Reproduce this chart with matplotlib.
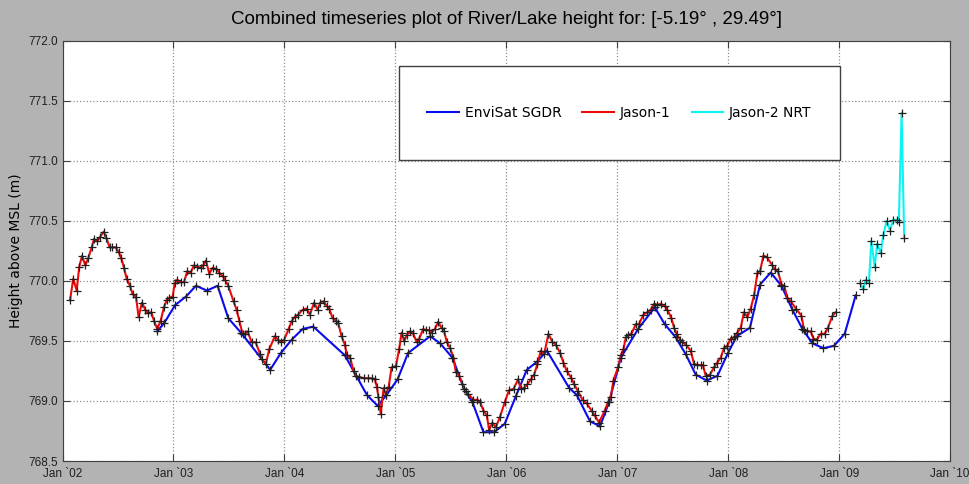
import matplotlib
matplotlib.use("Agg")
import matplotlib.pyplot as plt
from matplotlib.patches import Rectangle

# decimal year / height (m)
envisat_t = [2002.854, 2002.917, 2003.016, 2003.113, 2003.203, 2003.302, 2003.398, 2003.494,
             2003.608, 2003.872, 2003.968, 2004.065, 2004.164, 2004.260, 2004.545, 2004.744,
             2004.840, 2004.920, 2005.020, 2005.115, 2005.314, 2005.404, 2005.515, 2005.620,
             2005.695, 2005.794, 2005.890, 2005.986, 2006.086, 2006.185, 2006.281, 2006.365,
             2006.566, 2006.635, 2006.755, 2006.845, 2006.926, 2007.032, 2007.188, 2007.338,
             2007.428, 2007.527, 2007.617, 2007.707, 2007.806, 2007.903, 2007.998, 2008.077,
             2008.196, 2008.287, 2008.383, 2008.480, 2008.579, 2008.669, 2008.759, 2008.858,
             2008.954, 2009.050, 2009.149]
envisat_h = [769.58, 769.65, 769.80, 769.87, 769.96, 769.92, 769.96, 769.69,
             769.57, 769.26, 769.40, 769.51, 769.60, 769.62, 769.38, 769.05,
             768.96, 769.05, 769.18, 769.40, 769.54, 769.48, 769.36, 769.10,
             768.99, 768.74, 768.74, 768.81, 769.04, 769.26, 769.33, 769.42,
             769.11, 769.05, 768.83, 768.79, 768.99, 769.36, 769.60, 769.78,
             769.64, 769.53, 769.39, 769.22, 769.17, 769.21, 769.40, 769.54,
             769.61, 769.97, 770.07, 769.96, 769.76, 769.60, 769.48, 769.44,
             769.46, 769.56, 769.88]

jason1_t = [2002.068, 2002.097, 2002.128, 2002.151, 2002.176, 2002.206, 2002.232, 2002.263,
            2002.284, 2002.314, 2002.341, 2002.371, 2002.395, 2002.425, 2002.449, 2002.479,
            2002.506, 2002.530, 2002.554, 2002.578, 2002.608, 2002.632, 2002.662, 2002.686,
            2002.716, 2002.746, 2002.770, 2002.800, 2002.824, 2002.854, 2002.885, 2002.914,
            2002.939, 2002.962, 2002.993, 2003.011, 2003.034, 2003.065, 2003.095, 2003.124,
            2003.155, 2003.185, 2003.214, 2003.245, 2003.268, 2003.293, 2003.323, 2003.353,
            2003.383, 2003.413, 2003.443, 2003.464, 2003.494, 2003.542, 2003.569, 2003.593,
            2003.623, 2003.644, 2003.668, 2003.704, 2003.740, 2003.782, 2003.795, 2003.833,
            2003.863, 2003.914, 2003.944, 2003.968, 2003.998, 2004.038, 2004.068, 2004.095,
            2004.124, 2004.164, 2004.200, 2004.230, 2004.268, 2004.299, 2004.323, 2004.353,
            2004.383, 2004.404, 2004.434, 2004.464, 2004.485, 2004.515, 2004.545, 2004.563,
            2004.593, 2004.623, 2004.644, 2004.674, 2004.714, 2004.750, 2004.786, 2004.815,
            2004.833, 2004.848, 2004.869, 2004.894, 2004.914, 2004.940, 2004.966, 2005.005,
            2005.034, 2005.056, 2005.079, 2005.104, 2005.133, 2005.155, 2005.194, 2005.215,
            2005.251, 2005.275, 2005.305, 2005.326, 2005.356, 2005.386, 2005.416, 2005.440,
            2005.464, 2005.494, 2005.524, 2005.545, 2005.575, 2005.605, 2005.635, 2005.655,
            2005.704, 2005.740, 2005.764, 2005.794, 2005.824, 2005.845, 2005.875, 2005.905,
            2005.944, 2005.986, 2006.025, 2006.065, 2006.106, 2006.131, 2006.161, 2006.191,
            2006.221, 2006.251, 2006.281, 2006.311, 2006.341, 2006.380, 2006.416, 2006.446,
            2006.485, 2006.515, 2006.545, 2006.587, 2006.611, 2006.647, 2006.687, 2006.725,
            2006.768, 2006.797, 2006.836, 2006.887, 2006.917, 2006.941, 2006.965, 2007.007,
            2007.032, 2007.056, 2007.077, 2007.097, 2007.128, 2007.167, 2007.196, 2007.236,
            2007.272, 2007.302, 2007.332, 2007.362, 2007.392, 2007.428, 2007.452, 2007.488,
            2007.512, 2007.536, 2007.566, 2007.588, 2007.617, 2007.662, 2007.692, 2007.723,
            2007.752, 2007.772, 2007.797, 2007.836, 2007.872, 2007.902, 2007.932, 2007.962,
            2007.992, 2008.023, 2008.052, 2008.083, 2008.113, 2008.142, 2008.173, 2008.203,
            2008.233, 2008.264, 2008.287, 2008.317, 2008.347, 2008.398, 2008.419, 2008.449,
            2008.480, 2008.504, 2008.534, 2008.564, 2008.610, 2008.660, 2008.684, 2008.714,
            2008.744, 2008.768, 2008.798, 2008.834, 2008.870, 2008.899, 2008.939, 2008.969]
jason1_h = [769.84, 770.02, 769.92, 770.12, 770.21, 770.13, 770.19, 770.28,
            770.35, 770.33, 770.37, 770.41, 770.36, 770.28, 770.28, 770.28,
            770.24, 770.19, 770.11, 770.02, 769.96, 769.89, 769.87, 769.70,
            769.82, 769.76, 769.73, 769.74, 769.67, 769.60, 769.67, 769.78,
            769.84, 769.86, 769.87, 769.98, 770.01, 769.99, 769.99, 770.08,
            770.07, 770.13, 770.12, 770.11, 770.13, 770.17, 770.06, 770.11,
            770.10, 770.07, 770.04, 770.01, 769.96, 769.83, 769.76, 769.67,
            769.56, 769.56, 769.58, 769.49, 769.49, 769.39, 769.35, 769.31,
            769.43, 769.54, 769.51, 769.49, 769.51, 769.60, 769.67, 769.70,
            769.72, 769.76, 769.77, 769.72, 769.82, 769.76, 769.82, 769.83,
            769.79, 769.77, 769.69, 769.67, 769.65, 769.54, 769.47, 769.38,
            769.36, 769.25, 769.21, 769.20, 769.19, 769.19, 769.19, 769.18,
            769.12, 769.03, 768.89, 769.11, 769.05, 769.12, 769.28, 769.29,
            769.43, 769.57, 769.50, 769.55, 769.58, 769.57, 769.49, 769.52,
            769.60, 769.59, 769.59, 769.57, 769.60, 769.66, 769.61, 769.58,
            769.49, 769.44, 769.36, 769.24, 769.21, 769.14, 769.08, 769.06,
            769.01, 769.01, 768.99, 768.92, 768.88, 768.76, 768.82, 768.78,
            768.87, 768.99, 769.09, 769.10, 769.18, 769.10, 769.11, 769.14,
            769.18, 769.22, 769.31, 769.42, 769.39, 769.56, 769.49, 769.47,
            769.40, 769.32, 769.25, 769.19, 769.14, 769.08, 769.01, 768.98,
            768.92, 768.88, 768.82, 768.92, 768.99, 769.03, 769.17, 769.28,
            769.38, 769.43, 769.53, 769.55, 769.56, 769.64, 769.64, 769.72,
            769.74, 769.76, 769.81, 769.80, 769.81, 769.79, 769.76, 769.69,
            769.61, 769.56, 769.51, 769.49, 769.47, 769.42, 769.31, 769.30,
            769.30, 769.30, 769.21, 769.22, 769.28, 769.32, 769.36, 769.44,
            769.46, 769.52, 769.53, 769.57, 769.61, 769.74, 769.70, 769.77,
            769.88, 770.07, 770.08, 770.21, 770.20, 770.13, 770.10, 770.08,
            769.97, 769.96, 769.86, 769.83, 769.77, 769.71, 769.59, 769.58,
            769.58, 769.52, 769.51, 769.56, 769.56, 769.61, 769.71, 769.74]

jason2_t = [2009.188, 2009.218, 2009.239, 2009.268, 2009.290, 2009.320, 2009.344, 2009.374,
            2009.398, 2009.428, 2009.458, 2009.488, 2009.517, 2009.538, 2009.563, 2009.586]
jason2_h = [769.98, 769.93, 770.01, 769.98, 770.33, 770.12, 770.31, 770.23,
            770.38, 770.50, 770.42, 770.51, 770.51, 770.49, 771.40, 770.36]

year_ticks = [2002, 2003, 2004, 2005, 2006, 2007, 2008, 2009, 2010]
year_labels = ["Jan `02", "Jan `03", "Jan `04", "Jan `05", "Jan `06",
               "Jan `07", "Jan `08", "Jan `09", "Jan `10"]
height_ticks = [768.5, 769.0, 769.5, 770.0, 770.5, 771.0, 771.5, 772.0]

fig = plt.figure(figsize=(9.69, 4.84), dpi=100, facecolor="#b3b3b3")
ax = fig.add_axes([0.0645, 0.0475, 0.916, 0.868])
ax.set_facecolor("white")

ax.plot(envisat_t, envisat_h, color="#0a0aee", lw=1.5, label="EnviSat SGDR")
ax.plot(jason1_t, jason1_h, color="#ee0a0a", lw=1.5, label="Jason-1")
ax.plot(jason2_t, jason2_h, color="#0af4f4", lw=1.5, label="Jason-2 NRT")
for t, h in [(envisat_t, envisat_h), (jason1_t, jason1_h), (jason2_t, jason2_h)]:
    ax.plot(t, h, ls="none", marker="+", ms=6, mew=0.9, color="#202020")

ax.set_xlim(2002, 2010)
ax.set_ylim(768.5, 772.0)
ax.set_xticks(year_ticks)
ax.set_xticklabels(year_labels)
ax.set_yticks(height_ticks)
ax.set_yticklabels(["%.1f" % v for v in height_ticks])
for lab in ax.get_xticklabels() + ax.get_yticklabels():
    lab.set_family(["Liberation Sans Narrow", "Liberation Sans"])
    lab.set_fontsize(8.5)
    lab.set_color("#202020")
ax.tick_params(direction="in", length=5, width=0.8, color="#404040", pad=3,
               top=True, right=True)
ax.tick_params(axis="x", pad=5)
ax.grid(True, ls=":", color="#909090", lw=0.9)
for s in ax.spines.values():
    s.set_color("#404040")

ax.set_title("Combined timeseries plot of River/Lake height for: [-5.19° , 29.49°]",
             family="Liberation Sans", fontsize=13.5, pad=12)
ax.set_ylabel("Height above MSL (m)", fontsize=10, labelpad=4)

# legend: framed box larger than its content, like the reference
box = Rectangle((0.379, 0.717), 0.497, 0.223, transform=ax.transAxes,
                facecolor="white", edgecolor="#404040", lw=1.0, zorder=4)
ax.add_patch(box)
leg = ax.legend(loc="center", bbox_to_anchor=(0.379 + 0.497 / 2, 0.717 + 0.223 / 2),
                ncol=3, fontsize=10, handlelength=2.3, columnspacing=1.5,
                handletextpad=0.4, frameon=False)
leg.set_zorder(5)

fig.savefig("out.png", dpi=100, facecolor=fig.get_facecolor())
